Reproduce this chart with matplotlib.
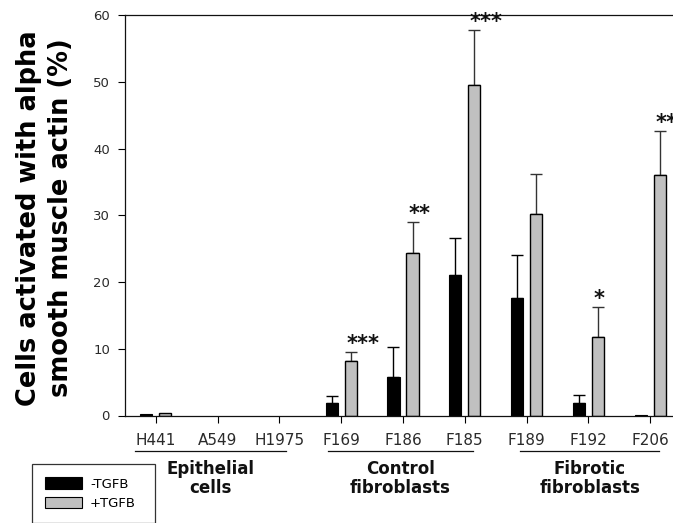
import matplotlib
matplotlib.use("Agg")
import matplotlib.pyplot as plt
from matplotlib.patches import Patch
import numpy as np

categories = ["H441", "A549", "H1975", "F169", "F186", "F185", "F189", "F192", "F206"]
minus_tgfb = [0.2, 0, 0, 1.8, 5.8, 21.1, 17.6, 1.8, 0.1]
minus_err = [0, 0, 0, 1.1, 4.5, 5.5, 6.4, 1.3, 0]
plus_tgfb = [0.3, 0, 0, 8.2, 24.3, 49.6, 30.2, 11.7, 36.0]
plus_err = [0, 0, 0, 1.3, 4.7, 8.2, 6.0, 4.5, 6.7]
stars = ["", "", "", "***", "**", "***", "", "*", "***"]
group_names = ["Epithelial\ncells", "Control\nfibroblasts", "Fibrotic\nfibroblasts"]
group_lines = [(-0.34, 2.11), (2.79, 5.13), (5.9, 8.14)]
yticks = [0, 10, 20, 30, 40, 50, 60]

W, H = 673, 523
fig = plt.figure(figsize=(W / 100, H / 100), dpi=100)
ax_l, ax_r, ax_t, ax_b = 125, 681, 15.3, 415.5
ax = fig.add_axes([ax_l / W, 1 - ax_b / H, (ax_r - ax_l) / W, (ax_b - ax_t) / H])

x = np.arange(len(categories))
bw = 0.195
off = 0.154
gray = "#c0c0c0"

bars_m = ax.bar(x - off, minus_tgfb, bw, color="black", edgecolor="black", linewidth=0.8, zorder=2)
bars_p = ax.bar(x + off, plus_tgfb, bw, color=gray, edgecolor="black", linewidth=1.0, zorder=2)
for b, v in zip(list(bars_m) + list(bars_p), minus_tgfb + plus_tgfb):
    if v == 0:
        b.set_linewidth(0)
        b.set_edgecolor("none")

for xi, v, e in zip(x - off, minus_tgfb, minus_err):
    if e > 0:
        ax.errorbar(xi, v, yerr=[[0], [e]], fmt="none", ecolor="black",
                    elinewidth=1.0, capsize=4.2, capthick=1.0, zorder=1)
for xi, v, e in zip(x + off, plus_tgfb, plus_err):
    if e > 0:
        ax.errorbar(xi, v, yerr=[[0], [e]], fmt="none", ecolor="#333333",
                    elinewidth=1.0, capsize=4.2, capthick=1.0, zorder=1)

for xi, v, e, s in zip(x + off, plus_tgfb, plus_err, stars):
    if s:
        ax.annotate(s, (xi - 0.07, v + e), xytext=(0, 1.5), textcoords="offset points",
                    ha="left", va="baseline", fontsize=15, fontweight="bold",
                    family="DejaVu Sans", color="#111111", annotation_clip=False)

ax.set_xlim(-0.5, len(categories) - 0.5)
ax.set_ylim(0, 60)
ax.set_yticks(yticks)
ax.set_yticklabels([str(t) for t in yticks])
ax.set_xticks(x)
ax.set_xticklabels(categories)
ax.tick_params(axis="y", direction="out", length=5, width=0.8, pad=5.8,
               labelsize=9.5, labelcolor="#2a2a2a")
ax.tick_params(axis="x", direction="out", length=5, width=0.8, pad=7.5,
               labelsize=11, labelcolor="#2a2a2a")
for sp in ["left", "bottom", "top"]:
    ax.spines[sp].set_linewidth(0.9)
    ax.spines[sp].set_color("#111111")
ax.spines["right"].set_visible(False)

trans = ax.get_xaxis_transform()
y_line = (ax_b - 450.7) / (ax_b - ax_t)
y_lab = (ax_b - 460) / (ax_b - ax_t)
for name, (a, b) in zip(group_names, group_lines):
    ax.plot([a, b], [y_line, y_line], transform=trans, color="#111111",
            linewidth=0.9, clip_on=False)
    ax.text((a + b) / 2, y_lab, name, transform=trans, ha="center", va="top",
            fontsize=12, fontweight="bold", family="DejaVu Sans",
            linespacing=1.05, color="#111111")

fig.text(45 / W, 1 - 218 / H, "Cells activated with alpha\nsmooth muscle actin (%)",
         rotation=90, ha="center", va="center", fontsize=18.5, fontweight="bold",
         family="DejaVu Sans", linespacing=1.3, multialignment="center")

handles = [Patch(facecolor="black", edgecolor="black", linewidth=0.8),
           Patch(facecolor=gray, edgecolor="black", linewidth=0.8)]
leg = fig.legend(handles, ["-TGFB", "+TGFB"],
                 bbox_to_anchor=(32 / W, 1 - 523 / H, (155 - 32) / W, (523 - 464) / H),
                 loc="upper left", mode="expand", fontsize=9.5, frameon=True,
                 fancybox=False, edgecolor="black", handlelength=2.8,
                 handleheight=1.0, handletextpad=0.6, labelspacing=0.45,
                 borderpad=1.0, borderaxespad=0)
leg.get_frame().set_linewidth(0.9)

fig.savefig("out.png", dpi=100)
